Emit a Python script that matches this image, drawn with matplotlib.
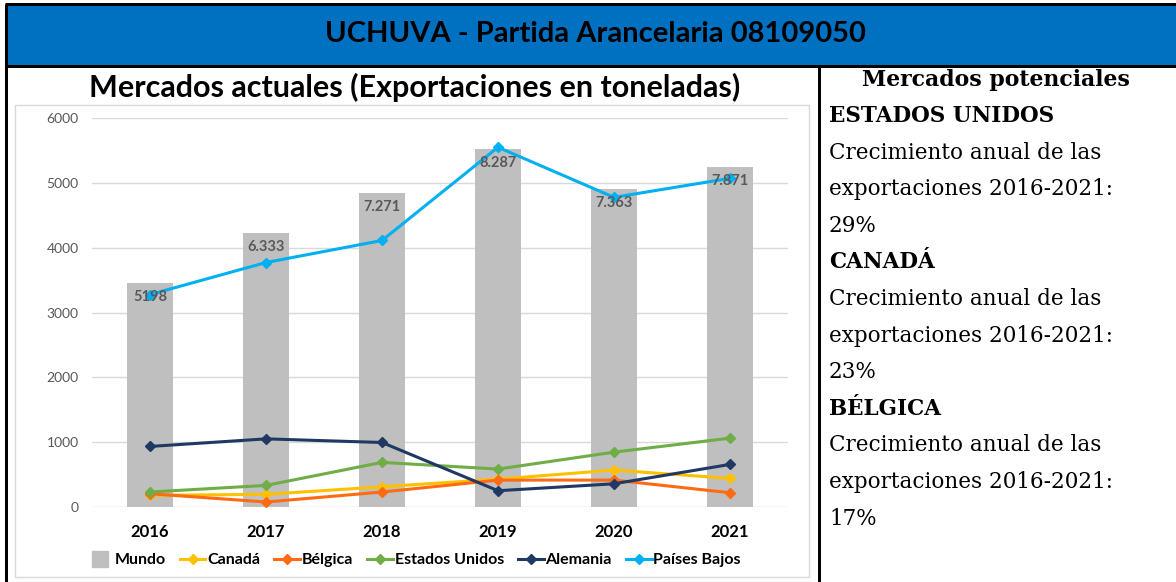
import matplotlib
matplotlib.use("Agg")
import matplotlib.pyplot as plt
from matplotlib.patches import Rectangle
from matplotlib.lines import Line2D

# datos (toneladas)
years = ["2016", "2017", "2018", "2019", "2020", "2021"]
mundo = [3450, 4220, 4840, 5520, 4900, 5240]
mundo_labels = ["5198", "6.333", "7.271", "8.287", "7.363", "7.871"]
canada = [180, 195, 312, 430, 569, 441]
belgica = [205, 77, 231, 415, 415, 220]
estados_unidos = [231, 333, 688, 585, 846, 1062]
alemania = [934, 1051, 995, 251, 358, 657]
paises_bajos = [3277, 3771, 4111, 5549, 4776, 5070]

series = [
    ("Canadá", canada, "#FFC000"),
    ("Bélgica", belgica, "#FF6A13"),
    ("Estados Unidos", estados_unidos, "#70AD47"),
    ("Alemania", alemania, "#1F3864"),
    ("Países Bajos", paises_bajos, "#00B0F0"),
]

side_text = [
    ("ESTADOS UNIDOS", True),
    ("Crecimiento anual de las", False),
    ("exportaciones 2016-2021:", False),
    ("29%", False),
    ("CANADÁ", True),
    ("Crecimiento anual de las", False),
    ("exportaciones 2016-2021:", False),
    ("23%", False),
    ("BÉLGICA", True),
    ("Crecimiento anual de las", False),
    ("exportaciones 2016-2021:", False),
    ("17%", False),
]

W, H = 1176, 582
fig = plt.figure(figsize=(W / 100, H / 100), dpi=100)
sans = "Lato"
serif = "DejaVu Serif"


def fx(x):
    return x / W


def fy(y):
    return 1 - y / H


# cabecera azul y bordes de la tabla
fig.patches.append(Rectangle((fx(5), fy(65)), fx(W - 5), 60 / H, transform=fig.transFigure,
                             facecolor="#0070C0", edgecolor="none"))
for x0, y0, x1, y1, lw in [(5, 4, W, 4, 3), (5, 65.5, W, 65.5, 3), (6, 4, 6, H, 3), (819, 65, 819, H, 3)]:
    fig.add_artist(Line2D([fx(x0), fx(x1)], [fy(y0), fy(y1)], transform=fig.transFigure,
                          color="black", lw=lw * 0.72, solid_capstyle="butt"))
# marco gris del grafico
fig.patches.append(Rectangle((fx(15), fy(577)), fx(794), 472 / H, transform=fig.transFigure,
                             facecolor="none", edgecolor="#D9D9D9", lw=1))

fig.text(fx(595), fy(34), "UCHUVA - Partida Arancelaria 08109050", ha="center", va="center",
         family=sans, weight="bold", fontsize=21)
fig.text(fx(415), fy(87), "Mercados actuales (Exportaciones en toneladas)", ha="center", va="center",
         family=sans, weight="bold", fontsize=22)
fig.text(fx(996), fy(80), "Mercados potenciales", ha="center", va="center",
         family=serif, weight="bold", fontsize=15.8)
for i, (txt, bold) in enumerate(side_text):
    fig.text(fx(829), fy(116 + i * 36.6), txt, ha="left", va="center", family=serif,
             weight="bold" if bold else "normal", fontsize=15.5)

ax = fig.add_axes([fx(92), fy(507), fx(696), 389 / H])
x = list(range(len(years)))
ax.bar(x, mundo, width=0.4, color="#BFBFBF", zorder=2)
for xi, v, lab in zip(x, mundo, mundo_labels):
    ax.annotate(lab, (xi, v), xytext=(0, -14), textcoords="offset pixels", ha="center", va="center",
                family=sans, weight="bold", fontsize=10.5, color="#595959", zorder=5)
handles = [Line2D([], [], ls="none", marker="s", markersize=11, color="#BFBFBF")]
labels = ["Mundo"]
for name, vals, col in series:
    ln, = ax.plot(x, vals, color=col, lw=2.2, marker="D", markersize=5, zorder=3)
    handles.append(ln)
    labels.append(name)

ax.set_xlim(-0.5, 5.5)
ax.set_ylim(0, 6000)
ax.set_yticks(range(0, 6001, 1000))
ax.grid(axis="y", color="#D9D9D9", lw=1, zorder=0)
for s in ax.spines.values():
    s.set_visible(False)
ax.tick_params(length=0)
ax.tick_params(axis="y", labelsize=10, labelcolor="#595959", pad=9.5)
ax.set_xticks(x)
ax.set_xticklabels(years, family=sans, weight="bold", fontsize=12)
ax.tick_params(axis="x", pad=12)
for t in ax.get_yticklabels():
    t.set_family(sans)

fig.legend(handles, labels, loc="center", bbox_to_anchor=(fx(414), fy(560)), ncol=6, frameon=False,
           prop={"family": sans, "weight": "bold", "size": 11.5},
           handlelength=1.6, handletextpad=0.1, columnspacing=0.9)

fig.savefig("out.png", dpi=100)
